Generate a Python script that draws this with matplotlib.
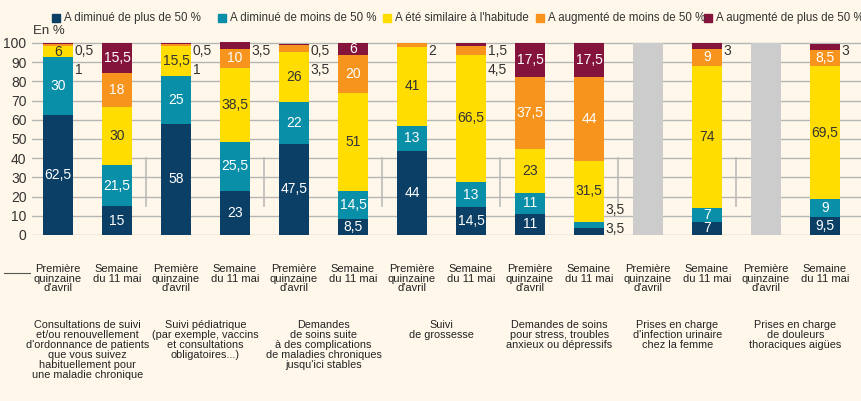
import matplotlib
matplotlib.use("Agg")
import matplotlib.pyplot as plt
from matplotlib.lines import Line2D
import numpy as np

plt.rcParams['font.family'] = ['Liberation Sans', 'DejaVu Sans']

# ---------------- data ----------------
series_names = ["A diminué de plus de 50 %", "A diminué de moins de 50 %",
                "A été similaire à l'habitude", "A augmenté de moins de 50 %",
                "A augmenté de plus de 50 %"]
period_labels = ["Première\nquinzaine\nd'avril", "Semaine\ndu 11 mai"]
group_labels = [
    "Consultations de suivi\net/ou renouvellement\nd'ordonnance de patients\nque vous suivez\nhabituellement pour\nune maladie chronique",
    "Suivi pédiatrique\n(par exemple, vaccins\net consultations\nobligatoires...)",
    "Demandes\nde soins suite\nà des complications\nde maladies chroniques\njusqu'ici stables",
    "Suivi\nde grossesse",
    "Demandes de soins\npour stress, troubles\nanxieux ou dépressifs",
    "Prises en charge\nd'infection urinaire\nchez la femme",
    "Prises en charge\nde douleurs\nthoraciques aigües",
]
# one value per bar (14 bars: 7 groups x 2 periods); nan = not asked
dim_plus50 = [62.5, 15, 58, 23, 47.5, 8.5, 44, 14.5, 11, 3.5, np.nan, 7, np.nan, 9.5]
dim_moins50 = [30, 21.5, 25, 25.5, 22, 14.5, 13, 13, 11, 3.5, np.nan, 7, np.nan, 9]
similaire = [6, 30, 15.5, 38.5, 26, 51, 41, 66.5, 23, 31.5, np.nan, 74, np.nan, 69.5]
aug_moins50 = [1, 18, 1, 10, 3.5, 20, 2, 4.5, 37.5, 44, np.nan, 9, np.nan, 8.5]
aug_plus50 = [0.5, 15.5, 0.5, 3.5, 0.5, 6, 0, 1.5, 17.5, 17.5, np.nan, 3, np.nan, 3]

series = [dim_plus50, dim_moins50, similaire, aug_moins50, aug_plus50]
colors = ["#0B3F66", "#0A8FA8", "#FFDD00", "#F7941D", "#85143C"]
text_colors = ["white", "white", "#333333", "white", "white"]
bg = "#FFF8EA"

def fmt(v):
    s = ("%.1f" % v).rstrip("0").rstrip(".")
    return s.replace(".", ",")

# ---------------- figure ----------------
fig = plt.figure(figsize=(8.62, 4.01), dpi=100, facecolor=bg)
W, H = 862, 401
ax_left, ax_bottom_px, ax_top_px = 32, 235, 0
ax = fig.add_axes([ax_left / W, (H - ax_bottom_px) / H, (W - ax_left) / W, (ax_bottom_px - ax_top_px) / H])
ax.set_facecolor(bg)

n = len(dim_plus50)
x = np.arange(n)
width = 0.5
step_px, first_px = 59.0, 58.0
xmin = -(first_px - ax_left) / step_px
ax.set_xlim(xmin, xmin + (W - ax_left) / step_px)
ax.set_ylim(0, 235 / 1.92)

for yv in range(0, 101, 10):
    ax.axhline(yv, color="#B5B5B5", lw=1, zorder=0)

# separators between groups (short, as in reference)
for g in range(1, 7):
    ax.plot([2 * g - 0.5, 2 * g - 0.5], [15, 40], color="#BBBBBB", lw=1.2, zorder=0.5)

bottom = np.zeros(n)
for s_idx, (vals, col, tcol) in enumerate(zip(series, colors, text_colors)):
    vals = np.array(vals, dtype=float)
    v = np.nan_to_num(vals)
    ax.bar(x, v, width, bottom=bottom, color=col, zorder=2, linewidth=0)
    for i in range(n):
        if np.isnan(vals[i]) or vals[i] == 0:
            continue
        yc = bottom[i] + v[i] / 2
        if v[i] >= 5:
            ax.text(x[i], yc, fmt(v[i]), ha="center", va="center", color=tcol,
                    fontsize=10, zorder=3)
    bottom += v

# small values: labels to the right of the bar
for i in range(n):
    cum = 0
    vals_i = [np.array(s, dtype=float)[i] for s in series]
    if np.isnan(vals_i[0]):
        continue
    lows, highs = [], []
    for k, val in enumerate(vals_i):
        if 0 < val < 5:
            if cum < 50:
                lows.append(val)
            else:
                highs.append(val)
        cum += val
    for j, val in enumerate(reversed(highs)):
        ax.text(x[i] + 0.28, 96 - j * 10, fmt(val), ha="left", va="center",
                color="#333333", fontsize=10, zorder=3)
    for j, val in enumerate(lows):
        ax.text(x[i] + 0.28, 3 + j * 10, fmt(val), ha="left", va="center",
                color="#333333", fontsize=10, zorder=3)

# not-asked bars (grey)
for i in range(n):
    if np.isnan(dim_plus50[i]):
        ax.bar(x[i], 100, width, color="#CCCCCC", zorder=2, linewidth=0)

ax.set_yticks(range(0, 101, 10))
ax.set_yticklabels([str(t) for t in range(0, 101, 10)], fontsize=10, color="#333333")
ax.tick_params(axis="y", length=0, pad=4)
ax.set_xticks(x)
ax.set_xticklabels([period_labels[i % 2] for i in range(n)], fontsize=8,
                   color="#222222", va="top", linespacing=0.95)
ax.tick_params(axis="x", length=0, pad=21)
for sp in ax.spines.values():
    sp.set_visible(False)

ax.text(xmin + 0.02, 106, "En %", ha="left", va="center", fontsize=9.5, color="#333333")

# legend across the top
leg_x = [64, 230, 395, 548, 716]
for name, col, lx in zip(series_names, colors, leg_x):
    fig.patches.append(plt.Rectangle(((lx - 12) / W, 1 - 22 / H), 8 / W, 8 / H,
                                     transform=fig.transFigure, color=col, figure=fig))
    fig.text(lx / W, 1 - 18 / H, name, ha="left", va="center", fontsize=8.3, color="#333333")

# small rule at bottom-left, as in reference
fig.lines.append(Line2D([4 / W, 30 / W], [1 - 273 / H, 1 - 273 / H], transform=fig.transFigure,
                        color="#555555", lw=0.8))

# group labels
for g, lab in enumerate(group_labels):
    xc = 2 * g + 0.5
    xf = (first_px + xc * step_px) / W
    fig.text(xf, 1 - 320 / H, lab, ha="center", va="top", fontsize=7.8,
             color="#222222", linespacing=1.0)

fig.savefig("out.png", dpi=100, facecolor=bg)
